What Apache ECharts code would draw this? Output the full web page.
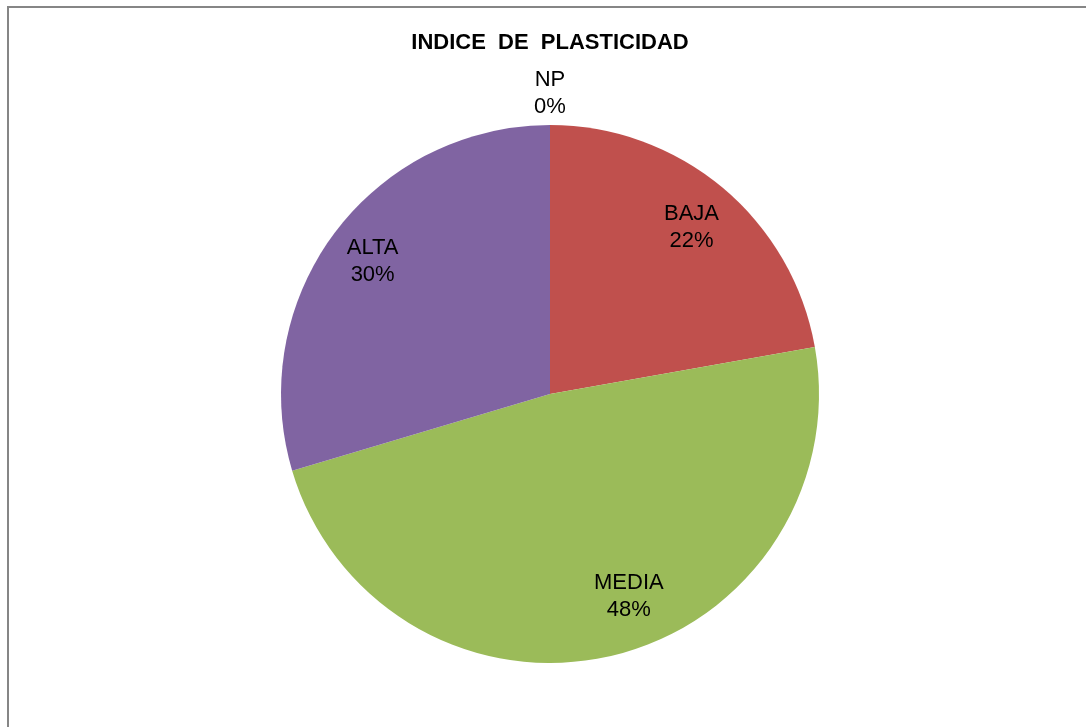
<!DOCTYPE html>
<html>
<head>
<meta charset="utf-8">
<title>INDICE DE PLASTICIDAD</title>
<script src="https://cdn.jsdelivr.net/npm/echarts@6/dist/echarts.min.js"></script>
<style>
  html, body { margin: 0; padding: 0; background: #fff; }
  #chart { width: 1086px; height: 727px; }
</style>
</head>
<body>
<div id="chart"></div>
<script>
// datos
var categories = ['NP', 'BAJA', 'MEDIA', 'ALTA'];
var values = [0, 22.2, 48.2, 29.6];
var colors = ['#4F81BD', '#C0504D', '#9BBB59', '#8064A2'];

var font = "'Liberation Sans', Arial, sans-serif";
var center = [550, 394];
// ajuste fino de etiquetas (como las coloca Excel)
var labelShift = { NP: [0, 0], BAJA: [-3, 6], MEDIA: [27, -17], ALTA: [3, 2] };

function buildData (labelFor, transparent) {
  return categories.map(function (name, i) {
    var item = {
      name: name,
      value: values[i],
      itemStyle: { color: transparent ? 'rgba(0,0,0,0)' : colors[i] },
      label: { show: labelFor(name) }
    };
    if (transparent) {
      item.label.offset = labelShift[name];
    }
    return item;
  });
}

var labelStyle = {
  position: 'inside',
  formatter: '{b}\n{d}%',
  color: '#000',
  fontFamily: font,
  fontSize: 22,
  lineHeight: 27
};

var chart = echarts.init(document.getElementById('chart'));

chart.setOption({
  animation: false,
  backgroundColor: '#fff',
  title: {
    text: 'INDICE  DE  PLASTICIDAD',
    left: 545,
    top: 27,
    textAlign: 'center',
    textStyle: {
      fontFamily: font,
      fontSize: 22,
      fontWeight: 'bold',
      color: '#000'
    }
  },
  graphic: [{
    type: 'rect',
    shape: { x: 8, y: 7, width: 1100, height: 740 },
    style: { fill: 'none', stroke: '#868686', lineWidth: 2 },
    silent: true
  }],
  series: [{
    // la torta
    type: 'pie',
    center: center,
    radius: 269,
    startAngle: 90,
    clockwise: true,
    percentPrecision: 0,
    label: { show: false },
    labelLine: { show: false },
    data: buildData(function () { return false; }, false)
  }, {
    // etiquetas BAJA / MEDIA / ALTA
    type: 'pie',
    center: center,
    radius: 444,
    startAngle: 90,
    clockwise: true,
    silent: true,
    percentPrecision: 0,
    avoidLabelOverlap: false,
    label: labelStyle,
    labelLine: { show: false },
    data: buildData(function (n) { return n !== 'NP'; }, true)
  }, {
    // etiqueta NP arriba
    type: 'pie',
    center: center,
    radius: 596,
    startAngle: 90,
    clockwise: true,
    silent: true,
    percentPrecision: 0,
    avoidLabelOverlap: false,
    label: labelStyle,
    labelLine: { show: false },
    data: buildData(function (n) { return n === 'NP'; }, true)
  }]
});
</script>
</body>
</html>
